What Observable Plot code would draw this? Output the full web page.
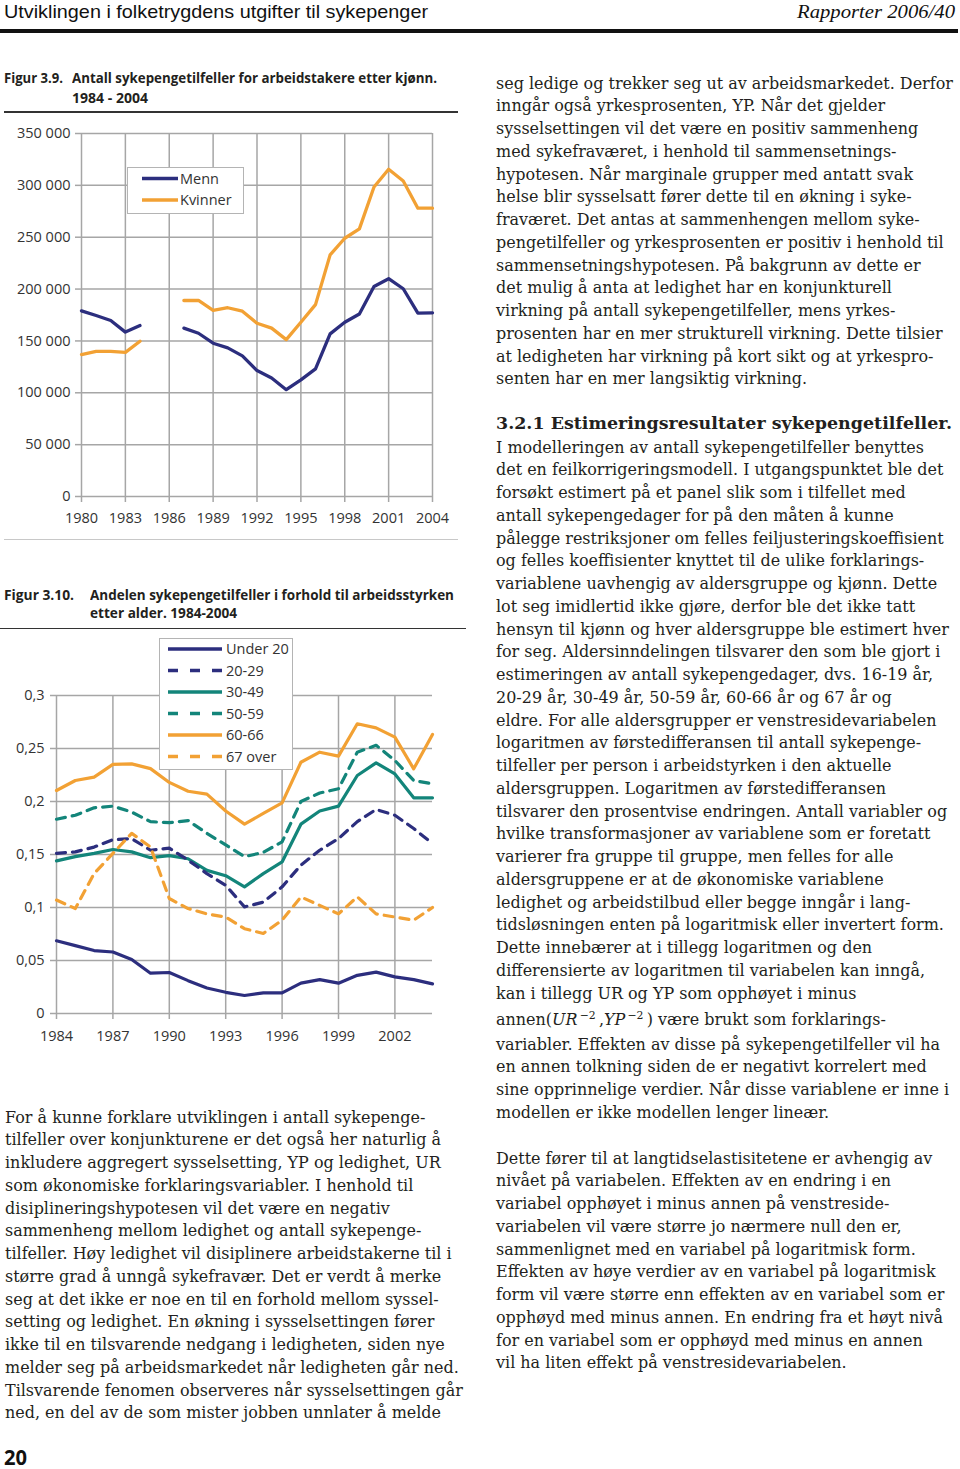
<!DOCTYPE html>
<html><head><meta charset="utf-8">
<script src="https://cdn.jsdelivr.net/npm/d3@7"></script>
<script src="https://cdn.jsdelivr.net/npm/@observablehq/plot@0.6"></script>
<style>
html,body{margin:0;padding:0;background:#fff;}
body{width:960px;height:1469px;position:relative;overflow:hidden;}
.t{position:absolute;white-space:nowrap;transform-origin:0 50%;color:#231f20;}
.abs{position:absolute;}
.leg{position:absolute;background:#fff;border:1.5px solid #b4b4b4;box-sizing:border-box;}
sup{font-size:0.68em;vertical-align:0.55em;line-height:0;}
</style></head><body>
<script>
// ---------- DATA ----------
const years1 = [1980,1981,1982,1983,1984,1985,1986,1987,1988,1989,1990,1991,1992,1993,1994,1995,1996,1997,1998,1999,2000,2001,2002,2003,2004];
const menn    = [179000,174500,169700,158500,164800,null,null,162300,157400,147800,143300,135600,121400,114300,103000,112400,123000,156800,168000,176000,202500,210000,200300,176800,177100];
const kvinner = [136900,140000,140000,139000,149700,null,null,189000,189000,179400,182000,178700,167000,162300,151300,168000,185000,233000,249000,258000,298400,315500,304200,278000,278000];
const series1 = ["Menn","Kvinner"];
const xTicks1 = [1980,1983,1986,1989,1992,1995,1998,2001,2004];
const yTicks1 = [0,50000,100000,150000,200000,250000,300000,350000];

const years2 = [1984,1985,1986,1987,1988,1989,1990,1991,1992,1993,1994,1995,1996,1997,1998,1999,2000,2001,2002,2003,2004];
const under20 = [0.0686,0.064,0.0594,0.058,0.051,0.038,0.0387,0.031,0.024,0.020,0.017,0.0195,0.0195,0.0286,0.032,0.0286,0.036,0.039,0.0346,0.032,0.028];
const age2029 = [0.151,0.1525,0.157,0.164,0.165,0.154,0.156,0.1447,0.132,0.121,0.1006,0.105,0.1195,0.14,0.154,0.165,0.181,0.1925,0.187,0.1745,0.1604];
const age3049 = [0.144,0.148,0.151,0.1547,0.1525,0.147,0.149,0.146,0.135,0.130,0.1195,0.132,0.143,0.1786,0.191,0.1956,0.2245,0.2365,0.226,0.2035,0.2035];
const age5059 = [0.1833,0.187,0.194,0.1956,0.19,0.181,0.180,0.182,0.170,0.159,0.148,0.152,0.162,0.200,0.208,0.212,0.2465,0.253,0.2387,0.2198,0.2167];
const age6066 = [0.2104,0.2198,0.223,0.235,0.2355,0.231,0.218,0.2097,0.207,0.191,0.1786,0.1887,0.1987,0.237,0.2465,0.2428,0.2733,0.2695,0.2607,0.2308,0.2632];
const age67   = [0.107,0.099,0.132,0.151,0.17,0.157,0.1085,0.099,0.094,0.091,0.080,0.0755,0.088,0.110,0.102,0.094,0.110,0.094,0.091,0.088,0.100];
const groups2 = ["Under 20","20-29","30-49","50-59","60-66","67 over"];
const dashed2 = ["20-29","50-59","67 over"];
const xTicks2 = [1984,1987,1990,1993,1996,1999,2002];
const yTicks2 = [0,0.05,0.1,0.15,0.2,0.25,0.3];

// ---------- STYLE ----------
const navy = "#2c2e7e", teal = "#13857a", orange = "#f2a134", grid = "#a6a6a6";
const sans = "'Open Sans', 'Noto Sans', sans-serif";
const serif = "'DejaVu Serif', serif";

function put(html, x, cy, o = {}) {
  const d = document.createElement("div");
  d.className = "t";
  d.innerHTML = html;
  const fs = o.fs || 16, lh = o.lh || fs * 1.3;
  d.style.fontFamily = o.font || sans;
  d.style.fontSize = fs + "px";
  d.style.lineHeight = lh + "px";
  d.style.fontWeight = o.bold ? "700" : "400";
  if (o.italic) d.style.fontStyle = "italic";
  if (o.color) d.style.color = o.color;
  d.style.left = x + "px";
  d.style.top = (cy - lh / 2 + (o.dy || 0)) + "px";
  document.body.appendChild(d);
  if (o.w) {
    const w = d.getBoundingClientRect().width;
    d.style.transform = `scaleX(${o.w / w})`;
  }
  return d;
}
function rule(x, y, w, h, c) {
  const d = document.createElement("div");
  d.className = "abs";
  Object.assign(d.style, {left: x + "px", top: y + "px", width: w + "px", height: h + "px", background: c});
  document.body.appendChild(d);
}

// ---------- PAGE HEADER ----------
put("Utviklingen i folketrygdens utgifter til sykepenger", 4, 12, {fs: 19, font: "'Liberation Sans', sans-serif", w: 424, color: "#111"});
put("Rapporter 2006/40", 797, 12, {fs: 19, font: "'Liberation Serif', serif", italic: true, w: 158, color: "#111"});
rule(0, 29, 958, 4, "#111");

// ---------- FIGURE 3.9 ----------
put("Figur 3.9.", 4, 78, {fs: 14.5, bold: true, w: 59});
put("Antall sykepengetilfeller for arbeidstakere etter kjønn.", 72, 78, {fs: 14.5, bold: true, w: 365});
put("1984 - 2004", 72, 98, {fs: 14.5, bold: true, w: 76});
rule(4, 111, 454, 1.5, "#333");

const data1 = years1.flatMap((yr, i) => [
  {year: yr, value: menn[i], serie: "Menn"},
  {year: yr, value: kvinner[i], serie: "Kvinner"}
]);
const fmt1 = d => d3.format(",")(d).replace(/,/g, " ");
const chart1 = Plot.plot({
  width: 460, height: 420,
  marginLeft: 81, marginRight: 28, marginTop: 13, marginBottom: 44,
  style: {fontFamily: sans, fontSize: "14.5px", color: "#333", background: "transparent", overflow: "visible"},
  x: {domain: [1980, 2004]},
  y: {domain: [0, 350000]},
  color: {domain: series1, range: [navy, orange]},
  marks: [
    Plot.gridX(xTicks1, {stroke: grid, strokeOpacity: 1, strokeWidth: 1.5}),
    Plot.gridY(yTicks1, {stroke: grid, strokeOpacity: 1, strokeWidth: 1.5}),
    Plot.axisX(xTicks1, {tickSize: 6, tickPadding: 10, tickFormat: d => String(d), stroke: grid, strokeWidth: 1.5, label: null}),
    Plot.axisY(yTicks1, {tickSize: 6, tickPadding: 5, tickFormat: fmt1, stroke: grid, strokeWidth: 1.5, label: null}),
    Plot.line(data1, {x: "year", y: "value", z: "serie", stroke: "serie", strokeWidth: 3.3, strokeLinejoin: "round"})
  ]
});
const c1 = document.createElement("div");
c1.className = "abs"; c1.style.left = "0px"; c1.style.top = "120px";
c1.appendChild(chart1);
document.body.appendChild(c1);
rule(4, 539, 454, 1, "#c8c8c8");

function legend(x, y, w, h, items, lx1, lx2, tx, ys) {
  const box = document.createElement("div");
  box.className = "leg";
  Object.assign(box.style, {left: x + "px", top: y + "px", width: w + "px", height: h + "px"});
  document.body.appendChild(box);
  const ns = "http://www.w3.org/2000/svg";
  const svg = document.createElementNS(ns, "svg");
  svg.setAttribute("width", 960); svg.setAttribute("height", 1469);
  Object.assign(svg.style, {position: "absolute", left: "0px", top: "0px", pointerEvents: "none"});
  items.forEach((it, i) => {
    const l = document.createElementNS(ns, "line");
    l.setAttribute("x1", lx1); l.setAttribute("x2", lx2);
    l.setAttribute("y1", ys[i]); l.setAttribute("y2", ys[i]);
    l.setAttribute("stroke", it.color); l.setAttribute("stroke-width", 3.3);
    if (it.dash) l.setAttribute("stroke-dasharray", it.dash);
    svg.appendChild(l);
    put(it.label, tx, ys[i], {fs: 14.5, color: "#333", lh: 18});
  });
  document.body.appendChild(svg);
}
legend(127, 167, 117, 47, [
  {label: "Menn", color: navy}, {label: "Kvinner", color: orange}
], 142, 178, 180, [178.5, 200]);

// ---------- FIGURE 3.10 ----------
put("Figur 3.10.", 4, 595, {fs: 14.5, bold: true, w: 70});
put("Andelen sykepengetilfeller i forhold til arbeidsstyrken", 90, 595, {fs: 14.5, bold: true, w: 364});
put("etter alder. 1984-2004", 90, 613, {fs: 14.5, bold: true, w: 147});
rule(0, 627.5, 466, 1.5, "#333");

const allVals = [under20, age2029, age3049, age5059, age6066, age67];
const data2 = years2.flatMap((yr, i) => groups2.map((g, k) => ({year: yr, value: allVals[k][i], group: g})));
const fmt2 = d => String(d).replace(".", ",");
const chart2 = Plot.plot({
  width: 470, height: 420,
  marginLeft: 56, marginRight: 38, marginTop: 55, marginBottom: 47,
  style: {fontFamily: sans, fontSize: "14.5px", color: "#333", background: "transparent", overflow: "visible"},
  x: {domain: [1984, 2004]},
  y: {domain: [0, 0.3]},
  color: {domain: groups2, range: [navy, navy, teal, teal, orange, orange]},
  marks: [
    Plot.gridX(xTicks2, {stroke: grid, strokeOpacity: 1, strokeWidth: 1.5}),
    Plot.gridY(yTicks2, {stroke: grid, strokeOpacity: 1, strokeWidth: 1.5}),
    Plot.axisX(xTicks2, {tickSize: 6, tickPadding: 11, tickFormat: d => String(d), stroke: grid, strokeWidth: 1.5, label: null}),
    Plot.axisY(yTicks2, {tickSize: 6, tickPadding: 6, tickFormat: fmt2, stroke: grid, strokeWidth: 1.5, label: null}),
    Plot.line(data2.filter(d => !dashed2.includes(d.group)), {x: "year", y: "value", z: "group", stroke: "group", strokeWidth: 3.2, strokeLinejoin: "round"}),
    Plot.line(data2.filter(d => dashed2.includes(d.group)), {x: "year", y: "value", z: "group", stroke: "group", strokeWidth: 3.2, strokeDasharray: "9,7"})
  ]
});
const c2 = document.createElement("div");
c2.className = "abs"; c2.style.left = "0px"; c2.style.top = "640px";
c2.appendChild(chart2);
document.body.appendChild(c2);

legend(159, 638, 134, 132, [
  {label: "Under 20", color: navy},
  {label: "20-29", color: navy, dash: "10,12"},
  {label: "30-49", color: teal},
  {label: "50-59", color: teal, dash: "10,12"},
  {label: "60-66", color: orange},
  {label: "67 over", color: orange, dash: "10,12"}
], 168, 222, 226, [649, 670.5, 692, 713.5, 735, 756.5]);

// ---------- BODY TEXT ----------
const probe = put("seg ledige og trekker seg ut av arbeidsmarkedet. Derfor", 0, -100, {fs: 20, font: serif});
const bodyFs = 20 * 457 / probe.getBoundingClientRect().width;
probe.remove();
const LH = 22.75;
const B = {fs: bodyFs, font: serif, lh: LH, dy: 1};

const rightTop = [
  "seg ledige og trekker seg ut av arbeidsmarkedet. Derfor",
  "inngår også yrkesprosenten, YP. Når det gjelder",
  "sysselsettingen vil det være en positiv sammenheng",
  "med sykefraværet, i henhold til sammensetnings-",
  "hypotesen. Når marginale grupper med antatt svak",
  "helse blir sysselsatt fører dette til en økning i syke-",
  "fraværet. Det antas at sammenhengen mellom syke-",
  "pengetilfeller og yrkesprosenten er positiv i henhold til",
  "sammensetningshypotesen. På bakgrunn av dette er",
  "det mulig å anta at ledighet har en konjunkturell",
  "virkning på antall sykepengetilfeller, mens yrkes-",
  "prosenten har en mer strukturell virkning. Dette tilsier",
  "at ledigheten har virkning på kort sikt og at yrkespro-",
  "senten har en mer langsiktig virkning."
];
rightTop.forEach((s, i) => put(s, 496, 83 + i * LH, B));

put("3.2.1 Estimeringsresultater sykepengetilfeller.", 496, 423, {fs: bodyFs, font: serif, lh: LH, bold: true, w: 456, dy: 1});

const rightMid = [
  "I modelleringen av antall sykepengetilfeller benyttes",
  "det en feilkorrigeringsmodell. I utgangspunktet ble det",
  "forsøkt estimert på et panel slik som i tilfellet med",
  "antall sykepengedager for på den måten å kunne",
  "pålegge restriksjoner om felles feiljusteringskoeffisient",
  "og felles koeffisienter knyttet til de ulike forklarings-",
  "variablene uavhengig av aldersgruppe og kjønn. Dette",
  "lot seg imidlertid ikke gjøre, derfor ble det ikke tatt",
  "hensyn til kjønn og hver aldersgruppe ble estimert hver",
  "for seg. Aldersinndelingen tilsvarer den som ble gjort i",
  "estimeringen av antall sykepengedager, dvs. 16-19 år,",
  "20-29 år, 30-49 år, 50-59 år, 60-66 år og 67 år og",
  "eldre. For alle aldersgrupper er venstresidevariabelen",
  "logaritmen av førstedifferansen til antall sykepenge-",
  "tilfeller per person i arbeidstyrken i den aktuelle",
  "aldersgruppen. Logaritmen av førstedifferansen",
  "tilsvarer den prosentvise endringen. Antall variabler og",
  "hvilke transformasjoner av variablene som er foretatt",
  "varierer fra gruppe til gruppe, men felles for alle",
  "aldersgruppene er at de økonomiske variablene",
  "ledighet og arbeidstilbud eller begge inngår i lang-",
  "tidsløsningen enten på logaritmisk eller invertert form.",
  "Dette innebærer at i tillegg logaritmen og den",
  "differensierte av logaritmen til variabelen kan inngå,",
  "kan i tillegg UR og YP som opphøyet i minus"
];
rightMid.forEach((s, i) => put(s, 496, 447 + i * LH, B));
put("annen(<i>UR</i><sup>&#8201;−2</sup>&#8201;,<i>YP</i><sup>&#8201;−2</sup>&#8201;) være brukt som forklarings-", 496, 1019, B);

const rightLow = [
  "variabler. Effekten av disse på sykepengetilfeller vil ha",
  "en annen tolkning siden de er negativt korrelert med",
  "sine opprinnelige verdier. Når disse variablene er inne i",
  "modellen er ikke modellen lenger lineær."
];
rightLow.forEach((s, i) => put(s, 496, 1044 + i * LH, B));

const rightEnd = [
  "Dette fører til at langtidselastisitetene er avhengig av",
  "nivået på variabelen. Effekten av en endring i en",
  "variabel opphøyet i minus annen på venstreside-",
  "variabelen vil være større jo nærmere null den er,",
  "sammenlignet med en variabel på logaritmisk form.",
  "Effekten av høye verdier av en variabel på logaritmisk",
  "form vil være større enn effekten av en variabel som er",
  "opphøyd med minus annen. En endring fra et høyt nivå",
  "for en variabel som er opphøyd med minus en annen",
  "vil ha liten effekt på venstresidevariabelen."
];
rightEnd.forEach((s, i) => put(s, 496, 1158 + i * LH, B));

const leftText = [
  "For å kunne forklare utviklingen i antall sykepenge-",
  "tilfeller over konjunkturene er det også her naturlig å",
  "inkludere aggregert sysselsetting, YP og ledighet, UR",
  "som økonomiske forklaringsvariabler. I henhold til",
  "disiplineringshypotesen vil det være en negativ",
  "sammenheng mellom ledighet og antall sykepenge-",
  "tilfeller. Høy ledighet vil disiplinere arbeidstakerne til i",
  "større grad å unngå sykefravær. Det er verdt å merke",
  "seg at det ikke er noe en til en forhold mellom syssel-",
  "setting og ledighet. En økning i sysselsettingen fører",
  "ikke til en tilsvarende nedgang i ledigheten, siden nye",
  "melder seg på arbeidsmarkedet når ledigheten går ned.",
  "Tilsvarende fenomen observeres når sysselsettingen går",
  "ned, en del av de som mister jobben unnlater å melde"
];
leftText.forEach((s, i) => put(s, 5, 1117 + i * LH, B));

// page number
put("20", 4, 1458, {fs: 21, bold: true, w: 23, color: "#111"});
</script>
</body></html>
